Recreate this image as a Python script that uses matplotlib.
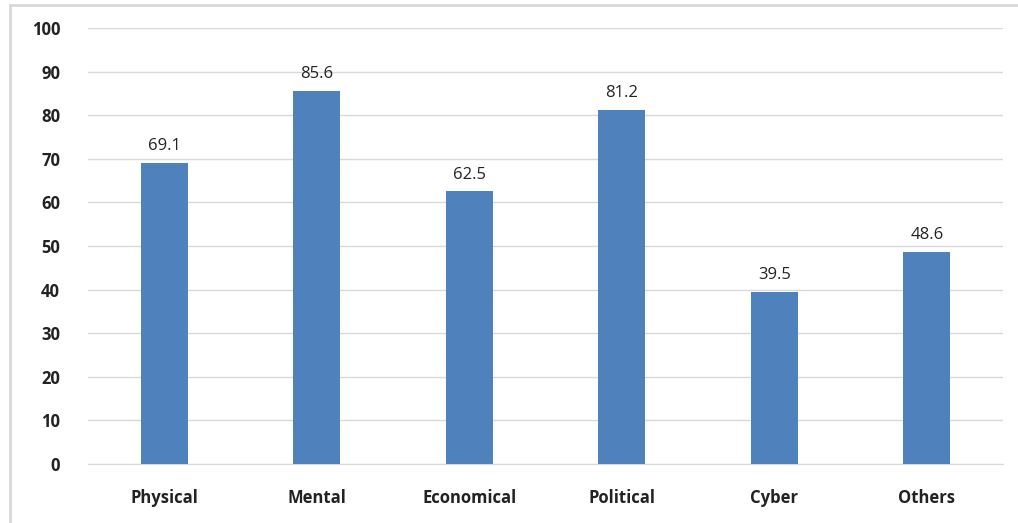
import matplotlib
matplotlib.use('Agg')
import matplotlib.pyplot as plt
import numpy as np

categories = ['Physical', 'Mental', 'Economical', 'Political', 'Cyber', 'Others']
values = [69.1, 85.6, 62.5, 81.2, 39.5, 48.6]
y_ticks = list(range(0, 101, 10))

plt.rcParams['font.family'] = ['Open Sans', 'DejaVu Sans']

fig = plt.figure(figsize=(10.18, 5.23), dpi=100)
ax = fig.add_axes([0.0864, 0.1128, 0.8989, 0.8337])

x = np.arange(len(categories))
bars = ax.bar(x, values, width=0.31, color='#4f81bd', zorder=3)

for xi, v in zip(x, values):
    ax.text(xi, v + 2.0, '{:.1f}'.format(v), ha='center', va='bottom',
            fontsize=12, color='#222222')

ax.set_xlim(-0.5, len(categories) - 0.5)
ax.set_ylim(0, 100)
ax.set_yticks(y_ticks)
ax.set_xticks(x)
ax.set_xticklabels(categories, fontsize=12, fontweight='bold', color='#222222')
for lab in ax.get_yticklabels():
    lab.set_fontsize(12)
    lab.set_fontweight('bold')
    lab.set_color('#222222')

ax.yaxis.grid(True, color='#d9d9d9', linewidth=1, zorder=0)
ax.tick_params(axis='both', length=0)
ax.tick_params(axis='y', pad=20)
ax.tick_params(axis='x', pad=18)
for s in ['top', 'right', 'left']:
    ax.spines[s].set_visible(False)
ax.spines['bottom'].set_color('#d9d9d9')

# outer chart border (top and left only visible in the crop)
fig.add_artist(plt.Line2D([0.0098, 1.0], [0.9904, 0.9904], transform=fig.transFigure,
                          color='#d9d9d9', linewidth=2))
fig.add_artist(plt.Line2D([0.0098, 0.0098], [0.0, 0.9904], transform=fig.transFigure,
                          color='#d9d9d9', linewidth=2))

fig.savefig('out.png', dpi=100)
